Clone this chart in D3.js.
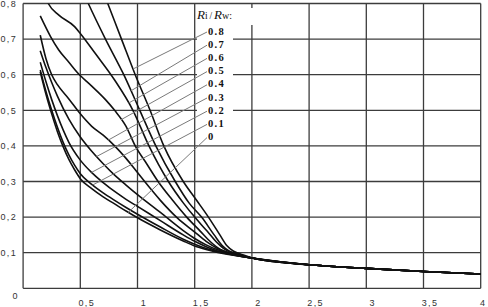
<!DOCTYPE html>
<html>
<head>
<meta charset="utf-8">
<script src="https://cdn.jsdelivr.net/npm/d3@7/dist/d3.min.js"></script>
<style>
  body { margin: 0; background: #fff; }
  svg { display: block; }
</style>
</head>
<body>
<div id="chart"></div>
<script>
// tick values
const xTicks = [0.5, 1, 1.5, 2, 2.5, 3, 3.5, 4];
const yTicks = [0.1, 0.2, 0.3, 0.4, 0.5, 0.6, 0.7, 0.8];

// Ri/Rw values, top label first
const ratios = ["0.8", "0.7", "0.6", "0.5", "0.4", "0.3", "0.2", "0.1", "0"];

// common tail shared by all curves
const tail = [[2.0, 0.085], [2.5, 0.066], [3.0, 0.056], [3.5, 0.047], [4.0, 0.040]];

// curves as [x, y]
const r00 = [[0.15, 0.608], [0.2, 0.545], [0.25, 0.49], [0.3, 0.44], [0.35, 0.398], [0.4, 0.362], [0.45, 0.333], [0.5, 0.308], [0.6, 0.28], [0.7, 0.257], [0.8, 0.237], [0.9, 0.217], [1.0, 0.198], [1.2, 0.164], [1.4, 0.133], [1.5, 0.119], [1.6, 0.109], [1.7, 0.101], [1.8, 0.095]];
const r01 = [[0.15, 0.613], [0.2, 0.553], [0.25, 0.5], [0.3, 0.452], [0.35, 0.41], [0.4, 0.375], [0.45, 0.346], [0.5, 0.322], [0.6, 0.292], [0.7, 0.268], [0.8, 0.247], [0.9, 0.227], [1.0, 0.208], [1.2, 0.172], [1.4, 0.138], [1.5, 0.124], [1.6, 0.112], [1.7, 0.103], [1.8, 0.096]];
const r02 = [[0.15, 0.635], [0.2, 0.58], [0.25, 0.53], [0.3, 0.485], [0.35, 0.445], [0.4, 0.41], [0.5, 0.36], [0.6, 0.325], [0.7, 0.297], [0.8, 0.272], [0.9, 0.25], [1.0, 0.23], [1.2, 0.19], [1.4, 0.15], [1.5, 0.132], [1.6, 0.117], [1.7, 0.105], [1.8, 0.097]];
const r03 = [[0.15, 0.667], [0.2, 0.62], [0.25, 0.578], [0.3, 0.54], [0.4, 0.475], [0.5, 0.425], [0.6, 0.385], [0.7, 0.35], [0.8, 0.318], [0.9, 0.29], [1.0, 0.263], [1.2, 0.213], [1.4, 0.162], [1.5, 0.14], [1.6, 0.122], [1.7, 0.108], [1.8, 0.098]];
const r04 = [[0.15, 0.711], [0.2, 0.645], [0.25, 0.6], [0.3, 0.572], [0.4, 0.532], [0.5, 0.49], [0.6, 0.455], [0.7, 0.43], [0.8, 0.4], [0.9, 0.365], [1.0, 0.325], [1.1, 0.285], [1.2, 0.247], [1.35, 0.197], [1.5, 0.158], [1.6, 0.132], [1.7, 0.112], [1.8, 0.1], [1.85, 0.096]];
const r05 = [[0.15, 0.765], [0.24, 0.707], [0.31, 0.67], [0.4, 0.635], [0.48, 0.604], [0.6, 0.568], [0.72, 0.53], [0.8, 0.5], [0.9, 0.455], [0.98, 0.4], [1.08, 0.35], [1.18, 0.3], [1.3, 0.25], [1.43, 0.2], [1.55, 0.16], [1.64, 0.13], [1.72, 0.11], [1.8, 0.1], [1.87, 0.094]];
const r06 = [[0.18, 0.83], [0.22, 0.8], [0.31, 0.768], [0.45, 0.735], [0.5, 0.716], [0.63, 0.66], [0.8, 0.585], [0.96, 0.5], [1.1, 0.4], [1.27, 0.3], [1.4, 0.24], [1.5, 0.2], [1.61, 0.16], [1.69, 0.13], [1.76, 0.11], [1.83, 0.1], [1.9, 0.093]];
const r07 = [[0.5, 0.85], [0.57, 0.8], [0.72, 0.7], [0.88, 0.6], [1.02, 0.5], [1.16, 0.4], [1.33, 0.3], [1.45, 0.24], [1.56, 0.2], [1.67, 0.15], [1.74, 0.12], [1.8, 0.105], [1.87, 0.096], [1.93, 0.091]];
const r08 = [[0.68, 0.85], [0.74, 0.8], [0.86, 0.7], [0.98, 0.6], [1.11, 0.5], [1.23, 0.4], [1.4, 0.3], [1.51, 0.25], [1.62, 0.2], [1.72, 0.15], [1.78, 0.12], [1.84, 0.104], [1.9, 0.096], [1.95, 0.091]];

const curves = [r08, r07, r06, r05, r04, r03, r02, r01, r00].map(c => c.concat(tail));

// slope of each leader line (px down per px left), same order as ratios
const leaderSlopes = [0.5, 0.6, 0.57, 0.56, 0.56, 0.53, 0.53, 0.53, 0.95];

const width = 488, height = 307;
const margin = { top: 3.5, right: 7.3, bottom: 18.7, left: 23.1 };

const svg = d3.select("#chart").append("svg")
    .attr("width", width)
    .attr("height", height)
    .style("font-family", "'Liberation Sans', Arial, sans-serif");

const x = d3.scaleLinear().domain([0, 4]).range([margin.left, width - margin.right]);
const y = d3.scaleLinear().domain([0, 0.8]).range([height - margin.bottom, margin.top]);

// grid
svg.append("g")
    .selectAll("line")
    .data(xTicks)
    .join("line")
    .attr("x1", d => x(d)).attr("x2", d => x(d))
    .attr("y1", y(0.8)).attr("y2", y(0))
    .attr("stroke", "#3c3c3c")
    .attr("stroke-width", 1.3);

svg.append("g")
    .selectAll("line")
    .data(yTicks)
    .join("line")
    .attr("x1", x(0)).attr("x2", x(4))
    .attr("y1", d => y(d)).attr("y2", d => y(d))
    .attr("stroke", "#3c3c3c")
    .attr("stroke-width", 1.3);

// left and bottom frame
svg.append("line")
    .attr("x1", x(0)).attr("x2", x(0))
    .attr("y1", y(0.8)).attr("y2", y(0))
    .attr("stroke", "#3c3c3c").attr("stroke-width", 1.3);
svg.append("line")
    .attr("x1", x(0)).attr("x2", x(4))
    .attr("y1", y(0)).attr("y2", y(0))
    .attr("stroke", "#3c3c3c").attr("stroke-width", 1.3);

// axes labels
const fmt = d => String(d).replace(".", ",");

const yAxis = svg.append("g")
    .attr("transform", `translate(${x(0)},0)`)
    .call(d3.axisLeft(y).tickValues(yTicks).tickSize(0).tickPadding(6).tickFormat(fmt));
const xAxis = svg.append("g")
    .attr("transform", `translate(0,${y(0)})`)
    .call(d3.axisBottom(x).tickValues(xTicks).tickSize(0).tickPadding(11).tickFormat(fmt));

[yAxis, xAxis].forEach(g => {
    g.select(".domain").remove();
    g.selectAll("text")
        .attr("fill", "#333")
        .style("font-size", "9px")
        .style("letter-spacing", "1.4px");
});
xAxis.selectAll("text").attr("dx", (d, i) => i === xTicks.length - 1 ? 2 : 6);

svg.append("text")
    .attr("x", x(0) - 8)
    .attr("y", y(0) + 11)
    .attr("text-anchor", "middle")
    .attr("fill", "#333")
    .style("font-size", "9px")
    .text("0");

// curves
svg.append("clipPath").attr("id", "plot")
    .append("rect")
    .attr("x", x(0)).attr("y", y(0.8))
    .attr("width", x(4) - x(0)).attr("height", y(0) - y(0.8));

const line = d3.line()
    .x(d => x(d[0]))
    .y(d => y(d[1]))
    .curve(d3.curveMonotoneX);

svg.append("g")
    .attr("clip-path", "url(#plot)")
    .selectAll("path")
    .data(curves)
    .join("path")
    .attr("fill", "none")
    .attr("stroke", "#111")
    .attr("stroke-width", 1.6)
    .attr("d", line);

// legend boxes cover the grid behind the labels
const labelX = 208, labelY0 = 31, labelStep = 13.2;

svg.append("rect")
    .attr("x", 197).attr("y", 26)
    .attr("width", 36).attr("height", labelY0 + labelStep * 8 + 8 - 26)
    .attr("fill", "#fff");
svg.append("rect")
    .attr("x", 196).attr("y", 8)
    .attr("width", 62).attr("height", 17)
    .attr("fill", "#fff");

// linear lookup on a curve, used to end each leader on its curve
function yAt(c, xv) {
    for (let i = 1; i < c.length; i++) {
        if (xv <= c[i][0]) {
            const t = (xv - c[i - 1][0]) / (c[i][0] - c[i - 1][0]);
            return c[i - 1][1] + t * (c[i][1] - c[i - 1][1]);
        }
    }
    return c[c.length - 1][1];
}

ratios.forEach((r, i) => {
    const sx = labelX - 1, sy = labelY0 + i * labelStep + 1;
    let px = sx;
    while (px > x(0)) {
        const ly = sy + leaderSlopes[i] * (sx - px);
        const cy = y(yAt(curves[i], x.invert(px)));
        if (ly >= cy) break;
        px -= 0.5;
    }
    svg.append("line")
        .attr("x1", sx).attr("y1", sy)
        .attr("x2", px).attr("y2", sy + leaderSlopes[i] * (sx - px))
        .attr("stroke", "#7a7a7a")
        .attr("stroke-width", 1);
});

svg.append("g")
    .selectAll("text")
    .data(ratios)
    .join("text")
    .attr("x", labelX)
    .attr("y", (d, i) => labelY0 + i * labelStep)
    .attr("dy", "0.35em")
    .style("font-family", "'Liberation Serif', 'Times New Roman', serif")
    .style("font-size", "10.5px")
    .style("font-weight", "bold")
    .style("letter-spacing", "1.3px")
    .attr("fill", "#111")
    .text(d => d);

const title = svg.append("text")
    .attr("x", 197)
    .attr("y", 19)
    .style("font-family", "'Liberation Serif', 'Times New Roman', serif")
    .attr("fill", "#111");
title.append("tspan").style("font-style", "italic").style("font-size", "13px").text("R");
title.append("tspan").style("font-size", "9.5px").text("i\u2009/\u2009");
title.append("tspan").style("font-style", "italic").style("font-size", "13px").text("R");
title.append("tspan").style("font-size", "10px").text("w:");
</script>
</body>
</html>
